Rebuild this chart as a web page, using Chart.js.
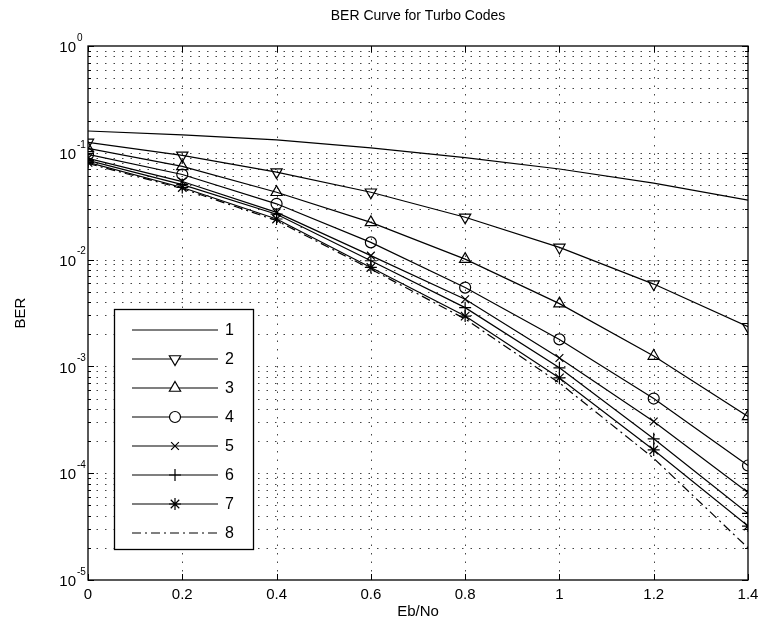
<!DOCTYPE html>
<html>
<head>
<meta charset="utf-8">
<title>BER Curve for Turbo Codes</title>
<script src="https://cdn.jsdelivr.net/npm/chart.js@4.4.1/dist/chart.umd.min.js"></script>
<style>
  html, body { margin: 0; padding: 0; background: #fff; }
  #wrap { width: 764px; height: 627px; }
</style>
</head>
<body>
<div id="wrap"><canvas id="berChart" width="764" height="627"></canvas></div>
<script>
// Eb/No points (dB)
const ebNo = [0, 0.2, 0.4, 0.6, 0.8, 1.0, 1.2, 1.4];
const xTickLabels = ["0", "0.2", "0.4", "0.6", "0.8", "1", "1.2", "1.4"];
const yDecades = [1e-5, 1e-4, 1e-3, 1e-2, 1e-1, 1];
const yExponents = ["-5", "-4", "-3", "-2", "-1", "0"];

// BER per decoding iteration
const ber1 = [0.160, 0.147, 0.132, 0.111, 0.0900, 0.0705, 0.0520, 0.0360];
const ber2 = [0.125, 0.0945, 0.0659, 0.0427, 0.0249, 0.0130, 0.0059, 0.00235];
const ber3 = [0.110, 0.0745, 0.0427, 0.0223, 0.0101, 0.00387, 0.00125, 0.00034];
const ber4 = [0.0966, 0.0626, 0.0333, 0.0145, 0.00547, 0.00179, 0.00050, 0.000118];
const ber5 = [0.0886, 0.0538, 0.0277, 0.0109, 0.00425, 0.00120, 0.000305, 0.000066];
const ber6 = [0.0849, 0.0504, 0.0266, 0.00975, 0.00355, 0.00097, 0.00021, 0.000042];
const ber7 = [0.0813, 0.0473, 0.0240, 0.00844, 0.00296, 0.00078, 0.000165, 0.000032];
const ber8 = [0.0795, 0.0463, 0.0232, 0.00814, 0.00278, 0.00070, 0.000138, 0.000020];
const seriesNames = ["1", "2", "3", "4", "5", "6", "7", "8"];

const FONT = "'Liberation Sans', Arial, Helvetica, sans-serif";

const toPoints = (ys) => ys.map((y, i) => ({ x: ebNo[i], y }));

function series(label, ys, style) {
    return Object.assign({
        label,
        data: toPoints(ys),
        borderColor: "#000",
        backgroundColor: "rgba(0,0,0,0)",
        borderWidth: 1.2,
        pointBorderColor: "#000",
        pointBackgroundColor: "rgba(0,0,0,0)",
        pointBorderWidth: 1.2,
        pointRadius: 0,
        tension: 0,
        fill: false,
    }, style);
}

const datasets = [
    series(seriesNames[0], ber1, {}),
    series(seriesNames[1], ber2, { pointStyle: "triangle", pointRotation: 180, pointRadius: 6.5 }),
    series(seriesNames[2], ber3, { pointStyle: "triangle", pointRadius: 6.5 }),
    series(seriesNames[3], ber4, { pointStyle: "circle", pointRadius: 5.5 }),
    series(seriesNames[4], ber5, { pointStyle: "crossRot", pointRadius: 5.5 }),
    series(seriesNames[5], ber6, { pointStyle: "cross", pointRadius: 6 }),
    series(seriesNames[6], ber7, { pointStyle: "star", pointRadius: 6 }),
    series(seriesNames[7], ber8, { borderDash: [9, 4, 2, 4] }),
];

// dotted MATLAB-style grid under the curves
const gridPlugin = {
    id: "matlabGrid",
    beforeDatasetsDraw(chart) {
        const { ctx, chartArea: a, scales: { x, y } } = chart;
        ctx.save();
        ctx.strokeStyle = "#444";
        ctx.lineWidth = 1;
        ctx.setLineDash([1.5, 7]);
        ebNo.forEach((v) => {
            const px = Math.round(x.getPixelForValue(v)) + 0.5;
            if (px <= a.left + 1 || px >= a.right - 1) return;
            ctx.beginPath();
            ctx.moveTo(px, a.bottom);
            ctx.lineTo(px, a.top);
            ctx.stroke();
        });
        yDecades.forEach((d) => {
            for (let m = 1; m <= 9; m++) {
                const v = d * m;
                if (v >= 1) break;
                const py = Math.round(y.getPixelForValue(v)) + 0.5;
                if (py >= a.bottom - 1) continue;
                ctx.beginPath();
                ctx.moveTo(a.left, py);
                ctx.lineTo(a.right, py);
                ctx.stroke();
            }
        });
        ctx.restore();
    },
    afterDatasetsDraw(chart) {
        const { ctx, chartArea: a, scales: { x, y } } = chart;
        ctx.save();
        ctx.strokeStyle = "#000";
        ctx.lineWidth = 1.3;
        ctx.strokeRect(a.left, a.top, a.right - a.left, a.bottom - a.top);

        // inward tick marks
        ctx.lineWidth = 1;
        ctx.beginPath();
        ebNo.forEach((v) => {
            const px = Math.round(x.getPixelForValue(v)) + 0.5;
            ctx.moveTo(px, a.bottom); ctx.lineTo(px, a.bottom - 6);
            ctx.moveTo(px, a.top); ctx.lineTo(px, a.top + 6);
        });
        yDecades.forEach((d) => {
            for (let m = 1; m <= 9; m++) {
                const v = d * m;
                if (v > 1) break;
                const py = Math.round(y.getPixelForValue(v)) + 0.5;
                const len = m === 1 ? 6 : 3;
                ctx.moveTo(a.left, py); ctx.lineTo(a.left + len, py);
                ctx.moveTo(a.right, py); ctx.lineTo(a.right - len, py);
            }
        });
        ctx.stroke();

        // y tick labels as 10 with a raised exponent
        ctx.fillStyle = "#000";
        ctx.textBaseline = "middle";
        yDecades.forEach((d, i) => {
            const py = y.getPixelForValue(d) + 2;
            ctx.font = "15px " + FONT;
            ctx.textAlign = "right";
            ctx.fillText("10", 76, py);
            ctx.font = "10px " + FONT;
            ctx.textAlign = "left";
            ctx.fillText(yExponents[i], 77, py - 10);
        });

        // titles
        ctx.font = "14px " + FONT;
        ctx.textAlign = "center";
        ctx.fillText("BER Curve for Turbo Codes", (a.left + a.right) / 2, 16);
        ctx.font = "15px " + FONT;
        ctx.fillText("Eb/No", (a.left + a.right) / 2, 612);
        ctx.translate(21, (a.top + a.bottom) / 2);
        ctx.rotate(-Math.PI / 2);
        ctx.fillText("BER", 0, 0);
        ctx.restore();
    },
};

// boxed legend in the lower-left of the axes
const legendPlugin = {
    id: "boxLegend",
    afterDraw(chart) {
        const { ctx } = chart;
        const box = { x: 114, y: 309, w: 139, h: 240 };
        ctx.save();
        ctx.fillStyle = "#fff";
        ctx.fillRect(box.x, box.y, box.w, box.h);
        ctx.strokeStyle = "#000";
        ctx.lineWidth = 1.3;
        ctx.strokeRect(box.x + 0.5, box.y + 0.5, box.w, box.h);

        chart.data.datasets.forEach((ds, i) => {
            const ry = box.y + 21 + i * 29;
            ctx.save();
            ctx.strokeStyle = ds.borderColor;
            ctx.lineWidth = ds.borderWidth;
            ctx.setLineDash(ds.borderDash || []);
            ctx.beginPath();
            ctx.moveTo(132, ry);
            ctx.lineTo(218, ry);
            ctx.stroke();
            ctx.restore();

            if (ds.pointRadius > 0 && Chart.helpers && Chart.helpers.drawPoint) {
                ctx.save();
                ctx.strokeStyle = ds.pointBorderColor;
                ctx.fillStyle = "#fff";
                ctx.lineWidth = ds.pointBorderWidth;
                Chart.helpers.drawPoint(ctx, {
                    pointStyle: ds.pointStyle,
                    rotation: ds.pointRotation || 0,
                    radius: ds.pointRadius,
                    borderWidth: ds.pointBorderWidth,
                }, 175, ry);
                ctx.restore();
            }

            ctx.fillStyle = "#000";
            ctx.font = "16px " + FONT;
            ctx.textAlign = "left";
            ctx.textBaseline = "middle";
            ctx.fillText(ds.label, 225, ry + 1);
        });
        ctx.restore();
    },
};

const ctx = document.getElementById("berChart").getContext("2d");

const berChart = new Chart(ctx, {
    type: "line",
    data: { datasets },
    options: {
        responsive: false,
        animation: false,
        layout: { padding: { left: 0, right: 16, top: 46, bottom: 0 } },
        scales: {
            x: {
                type: "linear",
                min: 0,
                max: 1.4,
                afterBuildTicks: (scale) => {
                    scale.ticks = ebNo.map((v) => ({ value: v }));
                },
                afterFit: (scale) => { scale.height = 47; },
                grid: { display: false },
                border: { display: false },
                ticks: {
                    autoSkip: false,
                    maxRotation: 0,
                    padding: -2,
                    color: "#000",
                    font: { size: 15, family: FONT },
                    callback: (value, index) => xTickLabels[index],
                },
            },
            y: {
                type: "logarithmic",
                min: 1e-5,
                max: 1,
                afterFit: (scale) => { scale.width = 88; },
                grid: { display: false },
                border: { display: false },
                ticks: { display: false },
            },
        },
        plugins: {
            legend: { display: false },
            tooltip: { enabled: false },
        },
    },
    plugins: [gridPlugin, legendPlugin],
});
</script>
</body>
</html>
